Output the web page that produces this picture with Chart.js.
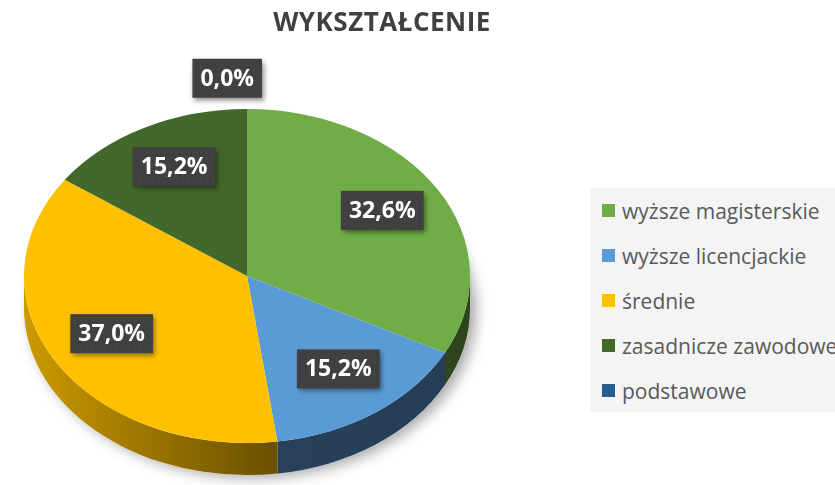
<!DOCTYPE html>
<html lang="pl">
<head>
<meta charset="utf-8">
<title>Wykształcenie</title>
<script src="https://cdn.jsdelivr.net/npm/chart.js@4.4.1/dist/chart.umd.min.js"></script>
<style>
    html, body { margin: 0; padding: 0; background: #fff; overflow: hidden; }
    #wrap { position: relative; width: 835px; height: 485px; }
    #chart { position: absolute; left: 0; top: 0; }
    #title {
        position: absolute; left: 0; top: 3px; width: 764px;
        text-align: center; line-height: 34px; letter-spacing: 0.5px;
        font: bold 26px 'Open Sans', sans-serif; color: #404040;
    }
    #legend {
        position: absolute; left: 590px; top: 188px; width: 260px; height: 224px;
        background: #f4f4f4;
    }
    .item {
        display: flex; align-items: center; height: 45px; padding-left: 12px;
        font: 21px 'Open Sans', sans-serif; color: #595959; white-space: nowrap;
    }
    .item i { display: inline-block; width: 13px; height: 13px; margin-right: 7px; }
</style>
</head>
<body>
<div id="wrap">
    <canvas id="chart" width="835" height="485"></canvas>
    <div id="title">WYKSZTAŁCENIE</div>
    <div id="legend"></div>
</div>
<script>
// dane
const kategorie = ['wyższe magisterskie', 'wyższe licencjackie', 'średnie', 'zasadnicze zawodowe', 'podstawowe'];
const liczby = [15, 7, 17, 7, 0];
const kolory = ['#70AD47', '#5B9BD5', '#FFC000', '#43682B', '#255E91'];

const SPLASZCZENIE = 0.749; // widok z góry pod kątem
const GLEBOKOSC = 32;       // grubość "tortu"

// legenda
const legend = document.getElementById('legend');
kategorie.forEach((nazwa, i) => {
    const el = document.createElement('div');
    el.className = 'item';
    el.innerHTML = `<i style="background:${kolory[i]}"></i>${nazwa}`;
    legend.appendChild(el);
});

// wzór kropek na tle etykiet
const wzor = document.createElement('canvas');
wzor.width = 6; wzor.height = 6;
const wctx = wzor.getContext('2d');
wctx.fillStyle = 'rgba(255,255,255,0.09)';
wctx.fillRect(2, 2, 1, 1);

function rysujBok(ctx, arcs) {
    const { x: cx, y: cy, outerRadius: rx } = arcs[0];
    const ry = rx * SPLASZCZENIE;

    // cień pod wykresem
    ctx.save();
    ctx.shadowColor = 'rgba(0,0,0,0.35)';
    ctx.shadowBlur = 14;
    ctx.shadowOffsetX = 6;
    ctx.shadowOffsetY = 3;
    ctx.beginPath();
    ctx.ellipse(cx, cy + GLEBOKOSC, rx, ry, 0, 0, Math.PI * 2);
    ctx.fillStyle = '#fff';
    ctx.fill();
    ctx.restore();

    const ciemniej = ctx.createLinearGradient(cx - rx, 0, cx + rx, 0);
    ciemniej.addColorStop(0, 'rgba(0,0,0,0.2)');
    ciemniej.addColorStop(0.55, 'rgba(0,0,0,0.58)');
    ciemniej.addColorStop(1, 'rgba(0,0,0,0.6)');

    arcs.forEach((arc, i) => {
        const a0 = Math.max(arc.startAngle, 0);
        const a1 = Math.min(arc.endAngle, Math.PI);
        if (a1 <= a0) return;
        ctx.beginPath();
        ctx.ellipse(cx, cy, rx, ry, 0, a0, a1);
        ctx.ellipse(cx, cy + GLEBOKOSC, rx, ry, 0, a1, a0, true);
        ctx.closePath();
        ctx.fillStyle = kolory[i];
        ctx.fill();
        ctx.fillStyle = ciemniej;
        ctx.fill();
    });
}

function rysujEtykiety(chart) {
    const ctx = chart.ctx;
    const arcs = chart.getDatasetMeta(0).data;
    const suma = liczby.reduce((s, v) => s + v, 0);

    ctx.save();
    ctx.font = 'bold 23px "Open Sans", sans-serif';
    ctx.textAlign = 'center';
    ctx.textBaseline = 'middle';

    arcs.forEach((arc, i) => {
        const tekst = (liczby[i] / suma * 100).toFixed(1).replace('.', ',') + '%';
        const kat = (arc.startAngle + arc.endAngle) / 2;
        const zero = liczby[i] === 0;
        const f = zero ? 1.16 : 0.71;
        const w = ctx.measureText(tekst).width + 16;
        const h = 39;
        let lx = arc.x + Math.cos(kat) * arc.outerRadius * f;
        const ly = arc.y + Math.sin(kat) * arc.outerRadius * SPLASZCZENIE * f - 4;
        // etykieta poza wykresem - kotwica przy prawym dolnym rogu
        if (zero) lx -= w / 2 - 15;

        ctx.save();
        ctx.shadowColor = 'rgba(0,0,0,0.45)';
        ctx.shadowBlur = 5;
        ctx.shadowOffsetX = 2;
        ctx.shadowOffsetY = 3;
        ctx.fillStyle = '#404040';
        ctx.fillRect(lx - w / 2, ly - h / 2, w, h);
        ctx.restore();

        ctx.fillStyle = ctx.createPattern(wzor, 'repeat');
        ctx.fillRect(lx - w / 2, ly - h / 2, w, h);

        ctx.fillStyle = '#fff';
        ctx.fillText(tekst, lx, ly + 1);
    });
    ctx.restore();
}

const tort3d = {
    id: 'tort3d',
    beforeDatasetsDraw(chart) {
        const ctx = chart.ctx;
        const arcs = chart.getDatasetMeta(0).data;
        rysujBok(ctx, arcs);
        const { x, y } = arcs[0];
        ctx.save();
        ctx.translate(x, y);
        ctx.scale(1, SPLASZCZENIE);
        ctx.translate(-x, -y);
    },
    afterDatasetsDraw(chart) {
        chart.ctx.restore();
        rysujEtykiety(chart);
    }
};

new Chart(document.getElementById('chart'), {
    type: 'pie',
    data: {
        labels: kategorie,
        datasets: [{
            data: liczby,
            backgroundColor: kolory,
            borderWidth: 0,
            radius: 223,
            clip: false
        }]
    },
    options: {
        responsive: false,
        animation: false,
        layout: { padding: { left: 0, right: 341, top: 67, bottom: 0 } },
        plugins: {
            legend: { display: false },
            tooltip: { enabled: false }
        }
    },
    plugins: [tort3d]
});
</script>
</body>
</html>
